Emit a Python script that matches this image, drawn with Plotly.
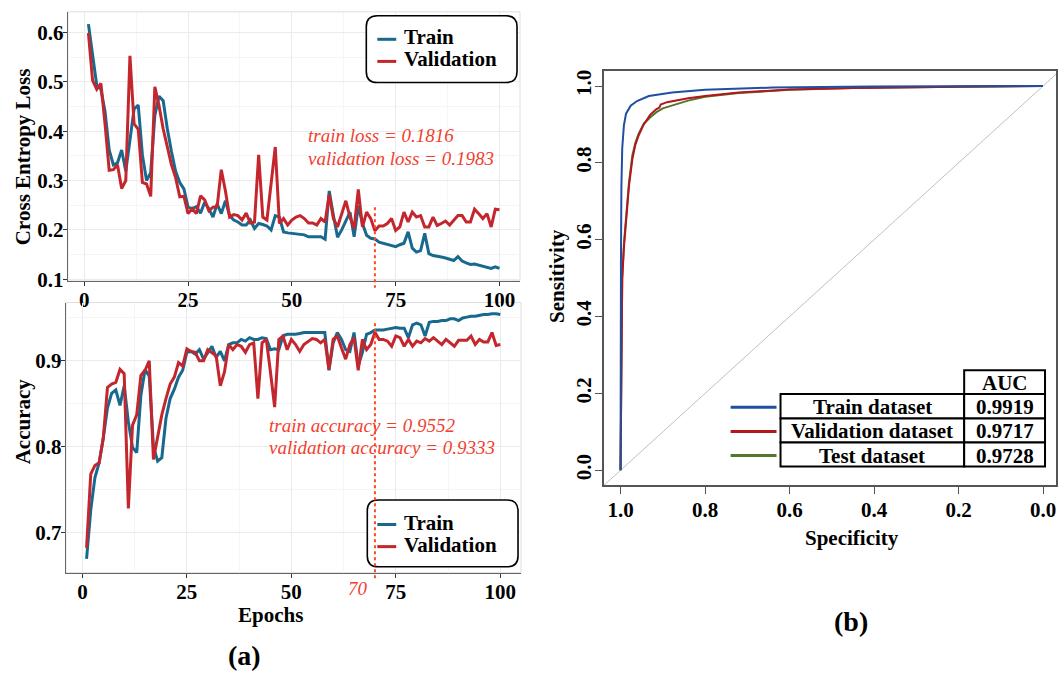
import plotly.graph_objects as go

# ---------------- data ----------------
epochs = list(range(1, 101))

train_loss = [0.617, 0.555, 0.493, 0.485, 0.440, 0.362, 0.332, 0.336, 0.362, 0.319,
              0.379, 0.445, 0.453, 0.352, 0.300, 0.316, 0.432, 0.471, 0.462, 0.405,
              0.359, 0.319, 0.296, 0.283, 0.246, 0.243, 0.247, 0.234, 0.256, 0.243,
              0.226, 0.253, 0.233, 0.259, 0.229, 0.220, 0.216, 0.210, 0.210, 0.220,
              0.203, 0.213, 0.211, 0.208, 0.200, 0.229, 0.226, 0.196, 0.194, 0.193,
              0.193, 0.192, 0.190, 0.186, 0.186, 0.186, 0.186, 0.181, 0.279, 0.229,
              0.185, 0.200, 0.219, 0.236, 0.186, 0.249, 0.213, 0.189, 0.183, 0.1816,
              0.175, 0.173, 0.170, 0.168, 0.166, 0.170, 0.173, 0.196, 0.163, 0.155,
              0.158, 0.193, 0.152, 0.148, 0.147, 0.145, 0.143, 0.141, 0.138, 0.146,
              0.137, 0.133, 0.130, 0.131, 0.129, 0.127, 0.125, 0.122, 0.125, 0.122]

val_loss = [0.599, 0.503, 0.485, 0.497, 0.415, 0.321, 0.322, 0.332, 0.284, 0.300,
            0.553, 0.415, 0.404, 0.296, 0.293, 0.268, 0.490, 0.452, 0.405, 0.366,
            0.332, 0.306, 0.267, 0.268, 0.233, 0.243, 0.233, 0.269, 0.261, 0.239,
            0.246, 0.247, 0.322, 0.279, 0.226, 0.231, 0.229, 0.220, 0.234, 0.214,
            0.216, 0.352, 0.226, 0.220, 0.290, 0.368, 0.213, 0.223, 0.210, 0.220,
            0.226, 0.229, 0.223, 0.214, 0.214, 0.210, 0.223, 0.216, 0.272, 0.223,
            0.206, 0.233, 0.259, 0.226, 0.203, 0.282, 0.206, 0.236, 0.223, 0.1983,
            0.208, 0.208, 0.213, 0.223, 0.199, 0.206, 0.236, 0.216, 0.236, 0.226,
            0.229, 0.206, 0.206, 0.226, 0.209, 0.213, 0.218, 0.210, 0.220, 0.229,
            0.229, 0.216, 0.216, 0.242, 0.233, 0.223, 0.233, 0.206, 0.242, 0.241]

train_acc = [0.669, 0.726, 0.764, 0.781, 0.810, 0.845, 0.862, 0.866, 0.848, 0.871,
             0.829, 0.799, 0.793, 0.860, 0.890, 0.882, 0.800, 0.783, 0.787, 0.833,
             0.856, 0.867, 0.881, 0.889, 0.910, 0.911, 0.908, 0.913, 0.902, 0.910,
             0.917, 0.904, 0.911, 0.900, 0.919, 0.921, 0.921, 0.925, 0.923, 0.927,
             0.925, 0.925, 0.927, 0.926, 0.913, 0.914, 0.913, 0.929, 0.931, 0.931,
             0.931, 0.932, 0.933, 0.933, 0.933, 0.933, 0.933, 0.933, 0.889, 0.921,
             0.933, 0.925, 0.913, 0.911, 0.933, 0.894, 0.910, 0.931, 0.933, 0.936,
             0.936, 0.936, 0.937, 0.938, 0.939, 0.938, 0.938, 0.927, 0.942, 0.944,
             0.942, 0.929, 0.945, 0.946, 0.946, 0.947, 0.947, 0.949, 0.949, 0.947,
             0.950, 0.951, 0.952, 0.952, 0.953, 0.954, 0.954, 0.955, 0.955, 0.954]

val_acc = [0.682, 0.768, 0.778, 0.781, 0.810, 0.869, 0.873, 0.875, 0.890, 0.885,
           0.728, 0.825, 0.837, 0.883, 0.889, 0.900, 0.785, 0.810, 0.837, 0.856,
           0.873, 0.881, 0.898, 0.894, 0.914, 0.911, 0.910, 0.900, 0.900, 0.913,
           0.910, 0.906, 0.871, 0.887, 0.919, 0.913, 0.919, 0.917, 0.910, 0.919,
           0.921, 0.856, 0.921, 0.925, 0.887, 0.846, 0.925, 0.929, 0.913, 0.925,
           0.919, 0.911, 0.919, 0.923, 0.926, 0.925, 0.921, 0.925, 0.890, 0.925,
           0.929, 0.915, 0.902, 0.919, 0.927, 0.889, 0.925, 0.913, 0.919, 0.9333,
           0.925, 0.925, 0.923, 0.917, 0.929, 0.927, 0.917, 0.925, 0.917, 0.923,
           0.921, 0.926, 0.923, 0.927, 0.923, 0.919, 0.925, 0.921, 0.917, 0.924,
           0.924, 0.924, 0.929, 0.919, 0.925, 0.922, 0.922, 0.933, 0.918, 0.919]

# ROC curves (specificity, sensitivity)
roc_train_spec = [1.0, 1.0, 0.999, 0.998, 0.996, 0.992, 0.987, 0.976, 0.961, 0.933, 0.878, 0.80, 0.64, 0.405, 0.0]
roc_train_sens = [0.0, 0.2, 0.55, 0.736, 0.838, 0.898, 0.928, 0.949, 0.961, 0.974, 0.983, 0.990, 0.996, 0.999, 1.0]
roc_val_spec = [1.0, 0.999, 0.998, 0.996, 0.992, 0.986, 0.980, 0.972, 0.965, 0.957, 0.945, 0.930, 0.915,
                0.908, 0.905, 0.890, 0.870, 0.840, 0.800, 0.720, 0.600, 0.450, 0.200, 0.050, 0.0]
roc_val_sens = [0.0, 0.13, 0.35, 0.50, 0.58, 0.66, 0.74, 0.81, 0.847, 0.872, 0.900, 0.925, 0.940,
                0.944, 0.952, 0.958, 0.962, 0.968, 0.974, 0.983, 0.991, 0.995, 0.998, 0.999, 1.0]
roc_test_spec = [1.0, 0.999, 0.998, 0.996, 0.992, 0.986, 0.980, 0.972, 0.965, 0.957, 0.945, 0.930, 0.915,
                 0.900, 0.870, 0.840, 0.800, 0.720, 0.600, 0.450, 0.200, 0.0]
roc_test_sens = [0.0, 0.12, 0.34, 0.50, 0.59, 0.67, 0.75, 0.82, 0.852, 0.876, 0.902, 0.918, 0.932,
                 0.942, 0.953, 0.962, 0.972, 0.982, 0.990, 0.995, 0.998, 1.0]

roc_names = ["Train dataset", "Validation dataset", "Test dataset"]
roc_auc = ["0.9919", "0.9717", "0.9728"]

loss_ticks = [0.1, 0.2, 0.3, 0.4, 0.5, 0.6]
acc_ticks = [0.7, 0.8, 0.9]
epoch_ticks = [0, 25, 50, 75, 100]
roc_ticks = [0.0, 0.2, 0.4, 0.6, 0.8, 1.0]

# ---------------- styling ----------------
W, H = 1058, 675
SERIF = "Liberation Serif"
C_TRAIN = "#17698e"
C_VAL = "#c4262e"
C_ROC = ["#1f4fa3", "#b3161c", "#52782a"]
C_NOTE = "#f2402e"


def px(x):
    return x / W


def py(y):
    return 1 - y / H


fig = go.Figure()

# loss panel
fig.add_trace(go.Scatter(x=epochs, y=train_loss, mode="lines", line=dict(color=C_TRAIN, width=3),
                         xaxis="x", yaxis="y", showlegend=False))
fig.add_trace(go.Scatter(x=epochs, y=val_loss, mode="lines", line=dict(color=C_VAL, width=3),
                         xaxis="x", yaxis="y", showlegend=False))
# accuracy panel
fig.add_trace(go.Scatter(x=epochs, y=train_acc, mode="lines", line=dict(color=C_TRAIN, width=3),
                         xaxis="x2", yaxis="y2", showlegend=False))
fig.add_trace(go.Scatter(x=epochs, y=val_acc, mode="lines", line=dict(color=C_VAL, width=3),
                         xaxis="x2", yaxis="y2", showlegend=False))
# ROC panel
fig.add_trace(go.Scatter(x=[1.04, -0.04], y=[-0.04, 1.04], mode="lines",
                         line=dict(color="#c0c0c0", width=1), xaxis="x3", yaxis="y3", showlegend=False))
for spec, sens, col in [(roc_test_spec, roc_test_sens, C_ROC[2]),
                        (roc_val_spec, roc_val_sens, C_ROC[1]),
                        (roc_train_spec, roc_train_sens, C_ROC[0])]:
    fig.add_trace(go.Scatter(x=spec, y=sens, mode="lines", line=dict(color=col, width=2),
                             xaxis="x3", yaxis="y3", showlegend=False))

tickfont_l = dict(family=SERIF, size=21, color="black", weight="bold")
tickfont_r = dict(family=SERIF, size=21, color="black", weight="bold")

left_x = dict(range=[-3.95, 104.95], tickvals=epoch_ticks, ticks="outside", ticklen=4,
              tickcolor="#333", showline=True, linecolor="#666", linewidth=1.2,
              showgrid=True, gridcolor="#ebebeb", gridwidth=1.3, ticklabelstandoff=-4,
              minor=dict(dtick=12.5, tick0=0, showgrid=True, gridcolor="#f5f5f5", gridwidth=1),
              tickfont=tickfont_l, zeroline=False)
left_y = dict(ticks="outside", ticklen=4, tickcolor="#333", showline=True, linecolor="#666",
              linewidth=1.2, showgrid=True, gridcolor="#ebebeb", gridwidth=1.3, ticklabelstandoff=-5,
              tickfont=tickfont_l, zeroline=False, tickformat=".1f")

fig.update_layout(
    width=W, height=H, margin=dict(l=0, r=0, t=0, b=0),
    paper_bgcolor="white", plot_bgcolor="white",
    xaxis=dict(left_x, domain=[px(68), px(521)], anchor="y"),
    yaxis=dict(left_y, domain=[py(285), py(11)], range=[0.0966, 0.642], tickvals=loss_ticks,
               minor=dict(dtick=0.05, tick0=0.05, showgrid=True, gridcolor="#f5f5f5", gridwidth=1),
               anchor="x"),
    xaxis2=dict(left_x, domain=[px(66), px(522)], anchor="y2"),
    yaxis2=dict(left_y, domain=[py(582), py(307)], range=[0.653, 0.968], tickvals=acc_ticks,
                minor=dict(dtick=0.05, tick0=0.05, showgrid=True, gridcolor="#f5f5f5", gridwidth=1),
                anchor="x2"),
    xaxis3=dict(domain=[px(605), 1.0], range=[1.0395, -0.0307], tickvals=roc_ticks, tickformat=".1f",
                ticks="outside", ticklen=7, tickcolor="#555", showline=True, mirror=True,
                linecolor="#555", linewidth=1.5, showgrid=False, zeroline=False, ticklabelstandoff=-2,
                tickfont=tickfont_r, anchor="y3"),
    yaxis3=dict(domain=[py(493), py(71.7)], range=[-0.039, 1.038], tickvals=roc_ticks, tickformat=".1f",
                ticks="outside", ticklen=7, tickcolor="#555", showline=True, mirror=True,
                linecolor="#555", linewidth=1.5, showgrid=False, zeroline=False, ticklabelstandoff=-4,
                tickfont=tickfont_r, tickangle=-90, anchor="x3"),
)

shapes = []
# light panel borders for the ggplot panels
for xr, yr in [("x", "y"), ("x2", "y2")]:
    shapes.append(dict(type="rect", xref=xr + " domain", yref=yr + " domain", x0=0, x1=1, y0=0, y1=1,
                       line=dict(color="#dedede", width=1), layer="below"))


def rrect(x0, y0, x1, y1, r):
    rx, ry = r / W, r / H
    X0, X1 = px(x0), px(x1)
    Y0, Y1 = py(y0), py(y1)  # Y0 top, Y1 bottom
    return (f"M {X0 + rx},{Y0} L {X1 - rx},{Y0} Q {X1},{Y0} {X1},{Y0 - ry} "
            f"L {X1},{Y1 + ry} Q {X1},{Y1} {X1 - rx},{Y1} L {X0 + rx},{Y1} "
            f"Q {X0},{Y1} {X0},{Y1 + ry} L {X0},{Y0 - ry} Q {X0},{Y0} {X0 + rx},{Y0} Z")


annotations = []
legend_boxes = [(367, 15, 518, 83, 37, 59.5), (368, 508, 519, 576, 531, 553.5)]
for (bx0, by0, bx1, by1, ty, vy) in legend_boxes:
    shapes.append(dict(type="path", xref="paper", yref="paper", path=rrect(bx0, by0, bx1, by1, 11),
                       line=dict(color="black", width=1.6), fillcolor="white"))
    for yy, col, lab in [(ty, C_TRAIN, "Train"), (vy, C_VAL, "Validation")]:
        shapes.append(dict(type="line", xref="paper", yref="paper", x0=px(378), x1=px(397),
                           y0=py(yy + 2), y1=py(yy + 2), line=dict(color=col, width=3)))
        annotations.append(dict(xref="paper", yref="paper", x=px(403), y=py(yy), text=lab,
                                showarrow=False, xanchor="left", yanchor="middle",
                                font=dict(family=SERIF, size=21, color="black", weight="bold")))

# dotted marker at epoch 70
shapes.append(dict(type="line", xref="x", yref="paper", x0=70, x1=70, y0=py(210), y1=py(292),
                   line=dict(color="#ff4a2a", width=2, dash="dot")))
shapes.append(dict(type="line", xref="x2", yref="paper", x0=70, x1=70, y0=py(328), y1=py(589),
                   line=dict(color="#ff4a2a", width=2, dash="dot")))

note_font = dict(family=SERIF, size=19, color=C_NOTE, style="italic")
for x0, y0, txt in [(307, 137, "train loss = 0.1816"), (307, 160, "validation loss = 0.1983"),
                    (268, 432, "train accuracy = 0.9552"), (268, 455, "validation accuracy = 0.9333")]:
    annotations.append(dict(xref="paper", yref="paper", x=px(x0), y=py(y0), text=txt, showarrow=False,
                            xanchor="left", yanchor="middle", font=note_font))
annotations.append(dict(xref="x2", yref="paper", x=70, xshift=-5, y=py(598), text="70", showarrow=False,
                        xanchor="right", yanchor="middle", font=note_font))

title_font = dict(family=SERIF, size=21, color="black", weight="bold")
annotations += [
    dict(xref="paper", yref="paper", x=px(23), y=py(158), text="Cross Entropy Loss", textangle=-90,
         showarrow=False, xanchor="center", yanchor="middle", font=title_font),
    dict(xref="paper", yref="paper", x=px(23), y=py(428), text="Accuracy", textangle=-90,
         showarrow=False, xanchor="center", yanchor="middle", font=title_font),
    dict(xref="paper", yref="paper", x=px(271), y=py(625), text="Epochs",
         showarrow=False, xanchor="center", yanchor="middle", font=title_font),
    dict(xref="paper", yref="paper", x=px(558), y=py(280), text="Sensitivity", textangle=-90,
         showarrow=False, xanchor="center", yanchor="middle", font=title_font),
    dict(xref="paper", yref="paper", x=px(854), y=py(547), text="Specificity",
         showarrow=False, xanchor="center", yanchor="middle", font=title_font),
    dict(xref="paper", yref="paper", x=px(245), y=py(666), text="(a)",
         showarrow=False, xanchor="center", yanchor="middle",
         font=dict(family=SERIF, size=28, color="black", weight="bold")),
    dict(xref="paper", yref="paper", x=px(853), y=py(632), text="(b)",
         showarrow=False, xanchor="center", yanchor="middle",
         font=dict(family=SERIF, size=28, color="black", weight="bold")),
]

# ROC legend table
tx0, tx1, tx2 = 782, 966, 1047
rows_y = [376, 400, 425, 449.5, 474]
box = dict(color="black", width=2)
shapes.append(dict(type="rect", xref="paper", yref="paper", x0=px(tx1), x1=px(tx2),
                   y0=py(rows_y[0]), y1=py(rows_y[1]), line=box, fillcolor="white"))
table_font = dict(family=SERIF, size=21, color="black", weight="bold")
annotations.append(dict(xref="paper", yref="paper", x=px((tx1 + tx2) / 2), y=py((rows_y[0] + rows_y[1]) / 2 + 1),
                        text="AUC", showarrow=False, xanchor="center", yanchor="middle", font=table_font))
for i, (name, auc, col) in enumerate(zip(roc_names, roc_auc, C_ROC)):
    ya, yb = rows_y[i + 1], rows_y[i + 2]
    shapes.append(dict(type="rect", xref="paper", yref="paper", x0=px(tx0), x1=px(tx1),
                       y0=py(ya), y1=py(yb), line=box, fillcolor="white"))
    shapes.append(dict(type="rect", xref="paper", yref="paper", x0=px(tx1), x1=px(tx2),
                       y0=py(ya), y1=py(yb), line=box, fillcolor="white"))
    ym = (ya + yb) / 2
    shapes.append(dict(type="line", xref="paper", yref="paper", x0=px(732), x1=px(778),
                       y0=py(ym + 1), y1=py(ym + 1), line=dict(color=col, width=3)))
    annotations.append(dict(xref="paper", yref="paper", x=px((tx0 + tx1) / 2), y=py(ym + 1), text=name,
                            showarrow=False, xanchor="center", yanchor="middle", font=table_font))
    annotations.append(dict(xref="paper", yref="paper", x=px((tx1 + tx2) / 2), y=py(ym + 1), text=auc,
                            showarrow=False, xanchor="center", yanchor="middle", font=table_font))

fig.update_layout(shapes=shapes, annotations=annotations)
fig.write_html("out.html")
